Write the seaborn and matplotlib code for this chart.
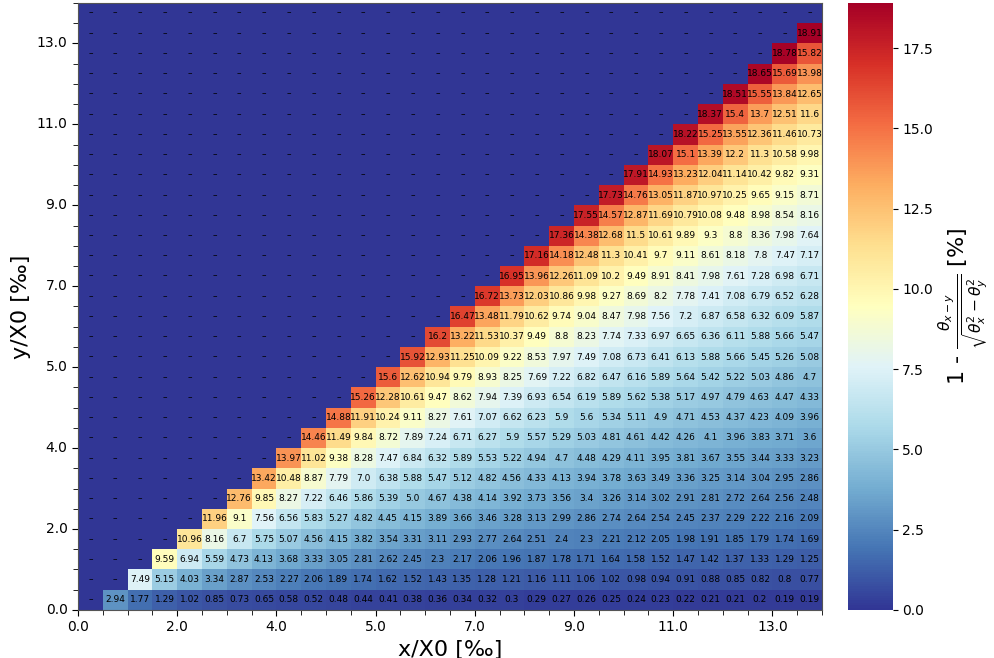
import matplotlib
matplotlib.use("Agg")
import matplotlib.pyplot as plt
import numpy as np
import pandas as pd
import seaborn as sns

# one list per row of the grid, from the bottom row upwards;
# row r holds the cells of columns r+1 .. 29
row_00 = [2.94, 1.77, 1.29, 1.02, 0.85, 0.73, 0.65, 0.58, 0.52, 0.48, 0.44, 0.41, 0.38, 0.36, 0.34,
          0.32, 0.3, 0.29, 0.27, 0.26, 0.25, 0.24, 0.23, 0.22, 0.21, 0.21, 0.2, 0.19, 0.19]
row_01 = [7.49, 5.15, 4.03, 3.34, 2.87, 2.53, 2.27, 2.06, 1.89, 1.74, 1.62, 1.52, 1.43, 1.35, 1.28,
          1.21, 1.16, 1.11, 1.06, 1.02, 0.98, 0.94, 0.91, 0.88, 0.85, 0.82, 0.8, 0.77]
row_02 = [9.59, 6.94, 5.59, 4.73, 4.13, 3.68, 3.33, 3.05, 2.81, 2.62, 2.45, 2.3, 2.17, 2.06, 1.96,
          1.87, 1.78, 1.71, 1.64, 1.58, 1.52, 1.47, 1.42, 1.37, 1.33, 1.29, 1.25]
row_03 = [10.96, 8.16, 6.7, 5.75, 5.07, 4.56, 4.15, 3.82, 3.54, 3.31, 3.11, 2.93, 2.77, 2.64, 2.51,
          2.4, 2.3, 2.21, 2.12, 2.05, 1.98, 1.91, 1.85, 1.79, 1.74, 1.69]
row_04 = [11.96, 9.1, 7.56, 6.56, 5.83, 5.27, 4.82, 4.45, 4.15, 3.89, 3.66, 3.46, 3.28, 3.13, 2.99,
          2.86, 2.74, 2.64, 2.54, 2.45, 2.37, 2.29, 2.22, 2.16, 2.09]
row_05 = [12.76, 9.85, 8.27, 7.22, 6.46, 5.86, 5.39, 5.0, 4.67, 4.38, 4.14, 3.92, 3.73, 3.56, 3.4,
          3.26, 3.14, 3.02, 2.91, 2.81, 2.72, 2.64, 2.56, 2.48]
row_06 = [13.42, 10.48, 8.87, 7.79, 7.0, 6.38, 5.88, 5.47, 5.12, 4.82, 4.56, 4.33, 4.13, 3.94,
          3.78, 3.63, 3.49, 3.36, 3.25, 3.14, 3.04, 2.95, 2.86]
row_07 = [13.97, 11.02, 9.38, 8.28, 7.47, 6.84, 6.32, 5.89, 5.53, 5.22, 4.94, 4.7, 4.48,
          4.29, 4.11, 3.95, 3.81, 3.67, 3.55, 3.44, 3.33, 3.23]
row_08 = [14.46, 11.49, 9.84, 8.72, 7.89, 7.24, 6.71, 6.27, 5.9, 5.57, 5.29, 5.03,
          4.81, 4.61, 4.42, 4.26, 4.1, 3.96, 3.83, 3.71, 3.6]
row_09 = [14.88, 11.91, 10.24, 9.11, 8.27, 7.61, 7.07, 6.62, 6.23, 5.9, 5.6, 5.34, 5.11, 4.9,
          4.71, 4.53, 4.37, 4.23, 4.09, 3.96]
row_10 = [15.26, 12.28, 10.61, 9.47, 8.62, 7.94, 7.39, 6.93, 6.54, 6.19, 5.89, 5.62, 5.38, 5.17,
          4.97, 4.79, 4.63, 4.47, 4.33]
row_11 = [15.6, 12.62, 10.94, 9.79, 8.93, 8.25, 7.69, 7.22, 6.82, 6.47, 6.16, 5.89, 5.64, 5.42,
          5.22, 5.03, 4.86, 4.7]
row_12 = [15.92, 12.93, 11.25, 10.09, 9.22, 8.53, 7.97, 7.49, 7.08, 6.73, 6.41, 6.13, 5.88, 5.66,
          5.45, 5.26, 5.08]
row_13 = [16.2, 13.22, 11.53, 10.37, 9.49, 8.8, 8.23, 7.74, 7.33, 6.97, 6.65, 6.36, 6.11, 5.88,
          5.66, 5.47]
row_14 = [16.47, 13.48, 11.79, 10.62, 9.74, 9.04, 8.47, 7.98, 7.56, 7.2, 6.87, 6.58, 6.32, 6.09, 5.87]
row_15 = [16.72, 13.73, 12.03, 10.86, 9.98, 9.27, 8.69, 8.2, 7.78, 7.41, 7.08, 6.79, 6.52, 6.28]
row_16 = [16.95, 13.96, 12.26, 11.09, 10.2, 9.49, 8.91, 8.41, 7.98, 7.61, 7.28, 6.98, 6.71]
row_17 = [17.16, 14.18, 12.48, 11.3, 10.41, 9.7, 9.11, 8.61, 8.18, 7.8, 7.47, 7.17]
row_18 = [17.36, 14.38, 12.68, 11.5, 10.61, 9.89, 9.3, 8.8, 8.36, 7.98, 7.64]
row_19 = [17.55, 14.57, 12.87, 11.69, 10.79, 10.08, 9.48, 8.98, 8.54, 8.16]
row_20 = [17.73, 14.76, 13.05, 11.87, 10.97, 10.25, 9.65, 9.15, 8.71]
row_21 = [17.91, 14.93, 13.23, 12.04, 11.14, 10.42, 9.82, 9.31]
row_22 = [18.07, 15.1, 13.39, 12.2, 11.3, 10.58, 9.98]
row_23 = [18.22, 15.25, 13.55, 12.36, 11.46, 10.73]
row_24 = [18.37, 15.4, 13.7, 12.51, 11.6]
row_25 = [18.51, 15.55, 13.84, 12.65]
row_26 = [18.65, 15.69, 13.98]
row_27 = [18.78, 15.82]
row_28 = [18.91]

n_bins = 30
tick_labels = ["0.0", "2.0", "4.0", "5.0", "7.0", "9.0", "11.0", "13.0"]

rows = [row_00, row_01, row_02, row_03, row_04, row_05, row_06, row_07, row_08, row_09,
        row_10, row_11, row_12, row_13, row_14, row_15, row_16, row_17, row_18, row_19,
        row_20, row_21, row_22, row_23, row_24, row_25, row_26, row_27, row_28]

# empty cells get colour 0 and a dash as label
grid = np.zeros((n_bins, n_bins))
labels = np.full((n_bins, n_bins), "–", dtype=object)
for r, vals in enumerate(rows):
    grid[r, r + 1:] = vals
    labels[r, r + 1:] = [str(v) for v in vals]
df = pd.DataFrame(grid)

fig = plt.figure(figsize=(9.95, 6.58), dpi=100)
ax = fig.add_axes([0.0784, 0.073, 0.7477, 0.9225])
cax = fig.add_axes([0.852, 0.073, 0.045, 0.9225])

sns.heatmap(df, cmap="RdYlBu_r", vmin=0, vmax=grid.max(), annot=labels, fmt="",
            annot_kws={"size": 6.5, "color": "black"}, ax=ax, cbar_ax=cax)
ax.invert_yaxis()

tick_pos = np.arange(0, n_bins, 4)
ax.set_xticks(tick_pos)
ax.set_xticklabels(tick_labels, rotation=0)
ax.set_yticks(tick_pos)
ax.set_yticklabels(tick_labels, rotation=0)
ax.set_xticks(np.arange(0, n_bins + 1), minor=True)
ax.set_yticks(np.arange(0, n_bins + 1), minor=True)
ax.tick_params(which="major", labelsize=10, length=4)
ax.tick_params(which="minor", length=3.5)
for sp in ax.spines.values():
    sp.set_visible(True)
    sp.set_color("#555555")
    sp.set_linewidth(0.8)

ax.set_xlabel("x/X0 [‰]", fontsize=16)
ax.set_ylabel("y/X0 [‰]", fontsize=16)

cax.tick_params(labelsize=10)
cax.set_ylabel(r"1 - $\frac{\theta_{x-y}}{\sqrt{\theta_x^2 - \theta_y^2}}$ [%]",
               fontsize=16, labelpad=2)

fig.savefig("out.png", dpi=100)
